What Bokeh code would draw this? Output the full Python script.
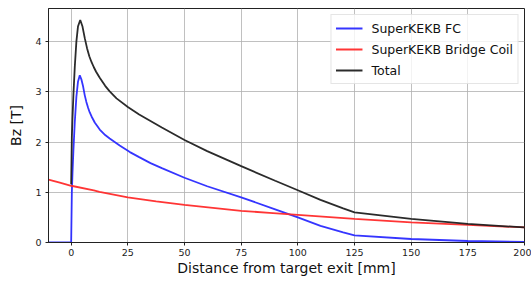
from bokeh.plotting import figure
from bokeh.models import Range1d, FixedTicker, Legend, LegendItem
from bokeh.embed import file_html
from bokeh.resources import INLINE

# --- data ---
fc_x = [-10, 0, 0.3, 0.6, 1.0, 1.6, 2.3, 3.0, 3.8, 4.5, 5.3, 6.0, 6.7, 7.5, 8.2, 9.0, 10.4, 12.6, 15, 17, 21.4, 25.9, 30, 35, 40, 50, 60, 75, 90, 100, 110, 120, 125, 150, 175, 200]
fc_y = [0, 0, 1.0, 1.4, 1.85, 2.4, 2.9, 3.2, 3.33, 3.25, 3.1, 2.93, 2.80, 2.68, 2.59, 2.51, 2.39, 2.25, 2.14, 2.07, 1.93, 1.80, 1.70, 1.58, 1.48, 1.29, 1.12, 0.90, 0.66, 0.50, 0.33, 0.20, 0.14, 0.07, 0.03, 0.01]

coil_x = [-10, -5, 0, 10, 12.5, 25, 37.5, 50, 62.5, 75, 87.5, 100, 112.5, 125, 150, 175, 200]
coil_y = [1.25, 1.19, 1.13, 1.04, 1.01, 0.90, 0.82, 0.75, 0.69, 0.63, 0.59, 0.55, 0.51, 0.47, 0.40, 0.35, 0.30]

tot_x = [0, 0.3, 0.6, 1.0, 1.6, 2.3, 3.0, 4.0, 5.0, 6.0, 7.0, 8.0, 9.0, 10, 11, 12.6, 15, 17, 20, 25, 30, 40, 50, 60, 75, 90, 100, 110, 120, 125, 150, 175, 200]
tot_y = [1.16, 2.1, 2.5, 2.95, 3.5, 4.0, 4.3, 4.43, 4.3, 4.07, 3.87, 3.71, 3.59, 3.49, 3.40, 3.28, 3.12, 3.01, 2.87, 2.70, 2.55, 2.29, 2.04, 1.82, 1.52, 1.23, 1.04, 0.85, 0.68, 0.60, 0.47, 0.37, 0.30]

x_ticks = [0, 25, 50, 75, 100, 125, 150, 175, 200]
y_ticks = [0, 1, 2, 3, 4]

FONT = "DejaVu Sans"

p = figure(width=531, height=281, output_backend="svg", toolbar_location=None,
           x_range=Range1d(-10, 200), y_range=Range1d(0, 4.66),
           min_border_left=48, min_border_right=7, min_border_top=8, min_border_bottom=39)

p.background_fill_color = "white"
p.outline_line_color = "#222222"
p.outline_line_width = 1

for ax in (p.xaxis, p.yaxis):
    ax.major_label_text_font = FONT
    ax.major_label_text_font_size = "9.5px"
    ax.major_label_text_color = "#222222"
    ax.axis_label_text_font = FONT
    ax.axis_label_text_font_size = "14px"
    ax.axis_label_text_font_style = "normal"
    ax.axis_label_text_color = "#111111"
    ax.axis_line_color = "#222222"
    ax.major_tick_line_color = "#222222"
    ax.major_tick_out = 3
    ax.major_tick_in = 0
    ax.minor_tick_line_color = None

p.xaxis.major_label_standoff = 3
p.xaxis.axis_label_standoff = 1
p.yaxis.major_label_standoff = 4
p.yaxis.axis_label_standoff = 8

p.xaxis.ticker = FixedTicker(ticks=x_ticks)
p.yaxis.ticker = FixedTicker(ticks=y_ticks)
p.xaxis.axis_label = "Distance from target exit [mm]"
p.yaxis.axis_label = "Bz [T]"

p.xgrid.ticker = FixedTicker(ticks=x_ticks)
p.ygrid.ticker = FixedTicker(ticks=y_ticks)
for g in (p.xgrid, p.ygrid):
    g.grid_line_color = "#b0b0b0"
    g.grid_line_alpha = 0.8
    g.grid_line_width = 1

r1 = p.line(fc_x, fc_y, line_color="#2a2aff", line_width=1.8, line_alpha=0.95)
r2 = p.line(coil_x, coil_y, line_color="#ff2a2a", line_width=1.8, line_alpha=0.95)
r3 = p.line(tot_x, tot_y, line_color="#202020", line_width=1.8, line_alpha=0.95)

legend = Legend(items=[
    LegendItem(label="SuperKEKB FC", renderers=[r1]),
    LegendItem(label="SuperKEKB Bridge Coil", renderers=[r2]),
    LegendItem(label="Total", renderers=[r3]),
], location="top_right")
legend.label_text_font = FONT
legend.label_text_font_size = "12.5px"
legend.label_text_color = "#111111"
legend.glyph_width = 27
legend.glyph_height = 18
legend.label_height = 18
legend.label_standoff = 9
legend.spacing = 3
legend.padding = 4
legend.margin = 6
legend.border_line_color = "#cccccc"
legend.border_line_width = 1
legend.background_fill_alpha = 0.8
p.add_layout(legend)

open("out.html", "w").write(file_html(p, INLINE))
